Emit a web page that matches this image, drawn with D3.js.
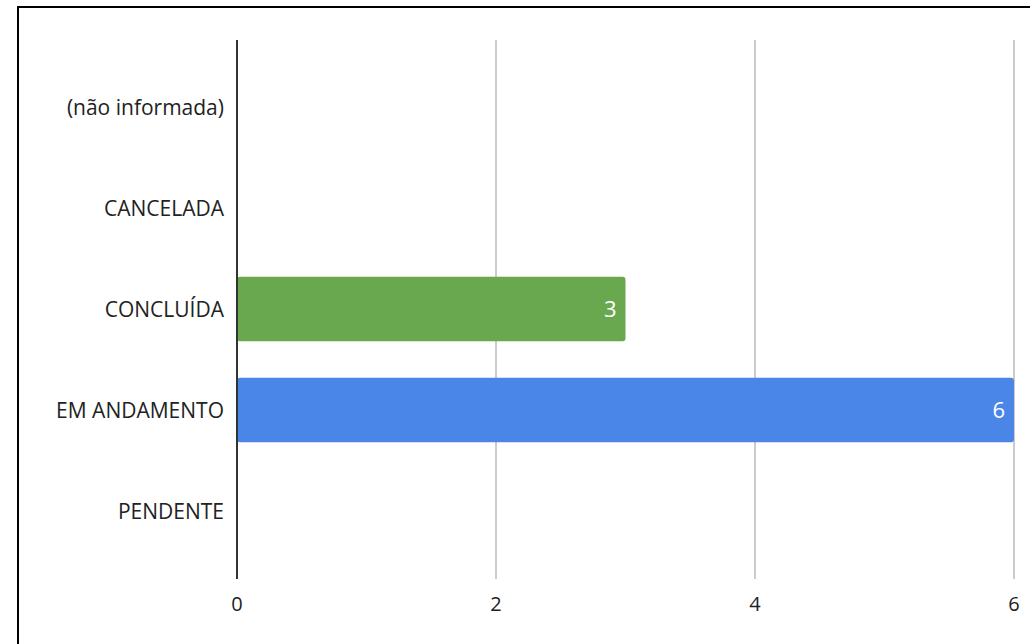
<!DOCTYPE html>
<html><head><meta charset="utf-8">
<script src="https://cdn.jsdelivr.net/npm/d3@7"></script>
<style>
html,body{margin:0;padding:0;background:#fff;overflow:hidden}
svg{display:block}
text{font-family:"Open Sans","Noto Sans",sans-serif}
</style></head>
<body><svg id="c" width="1030" height="644"></svg>
<script>
const categories = ["(não informada)", "CANCELADA", "CONCLUÍDA", "EM ANDAMENTO", "PENDENTE"];
const values = [0, 0, 3, 6, 0];
const barColors = ["#6aa84f", "#6aa84f", "#6aa84f", "#4a86e8", "#6aa84f"];
const xTicks = [0, 2, 4, 6];

(function () {
const svg = d3.select("#c");
// frame
svg.append("rect").attr("x", 18).attr("y", 7).attr("width", 1030).attr("height", 700)
  .attr("fill", "none").attr("stroke", "#000").attr("stroke-width", 2);

const x = d3.scaleLinear().domain([0, 6]).range([237, 1014]);
const y = d3.scaleBand().domain(categories).range([56.5, 561.5]).paddingInner(0.36).paddingOuter(0.18);

const yTop = 40, yBottom = 579;
// gridlines
svg.append("g").selectAll("line").data(xTicks.filter(d => d !== 0)).join("line")
  .attr("x1", d => x(d)).attr("x2", d => x(d)).attr("y1", yTop).attr("y2", yBottom)
  .attr("stroke", "#cccccc").attr("stroke-width", 2);

// bars
const data = categories.map((c, i) => ({c, v: values[i], color: barColors[i]}));
svg.append("g").selectAll("rect").data(data.filter(d => d.v > 0)).join("rect")
  .attr("x", x(0)).attr("y", d => y(d.c))
  .attr("width", d => x(d.v) - x(0)).attr("height", y.bandwidth())
  .attr("rx", 3).attr("fill", d => d.color);

// value labels
svg.append("g").selectAll("text").data(data.filter(d => d.v > 0)).join("text")
  .attr("x", d => x(d.v) - 9).attr("y", d => y(d.c) + y.bandwidth() / 2)
  .attr("dy", "0.36em").attr("text-anchor", "end")
  .attr("fill", "#fff").attr("font-size", 22).text(d => d.v);

// zero axis line
svg.append("line").attr("x1", x(0)).attr("x2", x(0)).attr("y1", yTop).attr("y2", yBottom)
  .attr("stroke", "#333").attr("stroke-width", 2);

// category labels
svg.append("g").selectAll("text").data(categories).join("text")
  .attr("x", 224).attr("y", d => y(d) + y.bandwidth() / 2)
  .attr("dy", "0.36em").attr("text-anchor", "end")
  .attr("fill", "#222").attr("font-size", 21).text(d => d);

// x tick labels
svg.append("g").selectAll("text").data(xTicks).join("text")
  .attr("x", d => x(d)).attr("y", 604).attr("dy", "0.36em").attr("text-anchor", "middle")
  .attr("fill", "#222").attr("font-size", 20).text(d => d);
})();
</script></body></html>
